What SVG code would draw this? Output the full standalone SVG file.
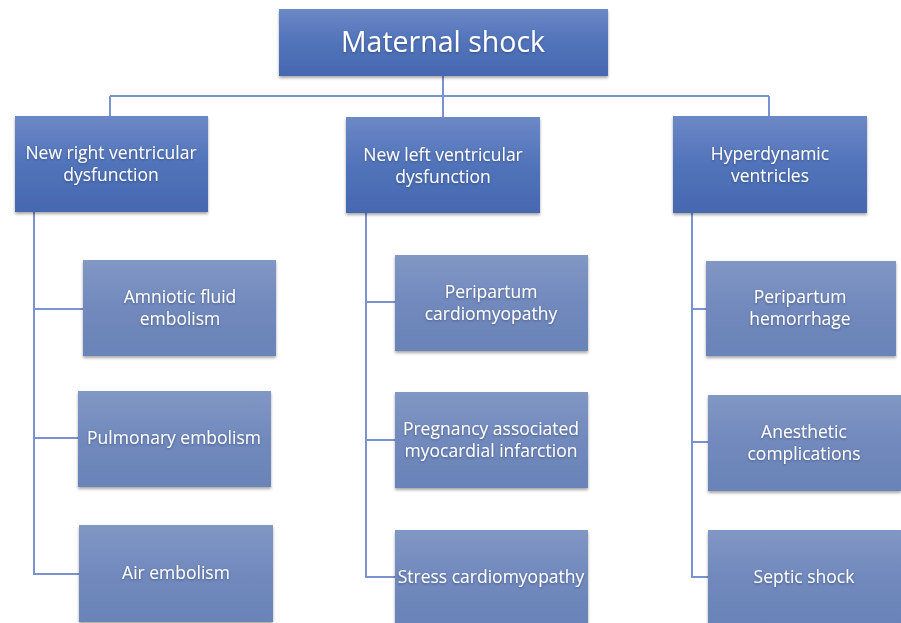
<svg xmlns="http://www.w3.org/2000/svg" width="901" height="623" viewBox="0 0 901 623">
<defs>
<linearGradient id="g1" x1="0" y1="0" x2="0" y2="1">
<stop offset="0" stop-color="#6c88c6"/>
<stop offset="0.5" stop-color="#5173ba"/>
<stop offset="1" stop-color="#4668b0"/>
</linearGradient>
<linearGradient id="g2" x1="0" y1="0" x2="0" y2="1">
<stop offset="0" stop-color="#8197c4"/>
<stop offset="0.5" stop-color="#7189bd"/>
<stop offset="1" stop-color="#6a84b8"/>
</linearGradient>
<filter id="sh" x="-10%" y="-10%" width="120%" height="130%">
<feDropShadow dx="0" dy="2" stdDeviation="1.5" flood-color="#000" flood-opacity="0.35"/>
</filter>
<filter id="ts" x="-10%" y="-30%" width="120%" height="160%">
<feDropShadow dx="0" dy="1" stdDeviation="1" flood-color="#203050" flood-opacity="0.5"/>
</filter>
</defs>
<style>
.l1{fill:url(#g1);filter:url(#sh)}
.l2{fill:url(#g2);filter:url(#sh)}
text{font-family:"Open Sans","Liberation Sans",sans-serif;fill:#fff;text-anchor:middle;filter:url(#ts)}
.t1{font-size:28.5px}
.t2{font-size:17.5px}
.c{stroke:#7a92d0;stroke-width:2;fill:none}
</style>
<rect width="901" height="623" fill="#fff"/>
<g id="connectors">
<path class="c" d="M443 76V96M110 96H769M110 96V116M443 96V117M769 96V116"/>
<path class="c" d="M34 212V574H80M34 309H83M34 438H78"/>
<path class="c" d="M366 213V577H395M366 302H395M366 440H395"/>
<path class="c" d="M692 213V577H708M692 309H706M692 442H708"/>
</g>
<g id="maternal-shock"><rect class="l1" x="279" y="9" width="329" height="67"/><text class="t1" x="443" y="52">Maternal shock</text></g>
<g id="new-rv"><rect class="l1" x="15" y="116" width="193" height="96"/><text class="t2" x="111" y="159">New right ventricular</text><text class="t2" x="111" y="181">dysfunction</text></g>
<g id="new-lv"><rect class="l1" x="346" y="117" width="194" height="96"/><text class="t2" x="443" y="161">New left ventricular</text><text class="t2" x="443" y="183">dysfunction</text></g>
<g id="hyperdynamic"><rect class="l1" x="673" y="116" width="194" height="97"/><text class="t2" x="770" y="160">Hyperdynamic</text><text class="t2" x="770" y="182">ventricles</text></g>
<g id="afe"><rect class="l2" x="83" y="260" width="193" height="96"/><text class="t2" x="180" y="303">Amniotic fluid</text><text class="t2" x="180" y="325">embolism</text></g>
<g id="pe"><rect class="l2" x="78" y="391" width="193" height="96"/><text class="t2" x="174" y="444">Pulmonary embolism</text></g>
<g id="air"><rect class="l2" x="79" y="525" width="194" height="97"/><text class="t2" x="176" y="579">Air embolism</text></g>
<g id="ppcm"><rect class="l2" x="395" y="255" width="193" height="96"/><text class="t2" x="491" y="298">Peripartum</text><text class="t2" x="491" y="320">cardiomyopathy</text></g>
<g id="pami"><rect class="l2" x="395" y="392" width="193" height="96"/><text class="t2" x="491" y="435">Pregnancy associated</text><text class="t2" x="491" y="457">myocardial infarction</text></g>
<g id="stress"><rect class="l2" x="395" y="530" width="193" height="93"/><text class="t2" x="491" y="583">Stress cardiomyopathy</text></g>
<g id="pph"><rect class="l2" x="706" y="261" width="190" height="95"/><text class="t2" x="800" y="303">Peripartum</text><text class="t2" x="800" y="325">hemorrhage</text></g>
<g id="anesthetic"><rect class="l2" x="708" y="395" width="193" height="96"/><text class="t2" x="804" y="438">Anesthetic</text><text class="t2" x="804" y="460">complications</text></g>
<g id="septic"><rect class="l2" x="708" y="530" width="193" height="93"/><text class="t2" x="804" y="583">Septic shock</text></g>
</svg>
